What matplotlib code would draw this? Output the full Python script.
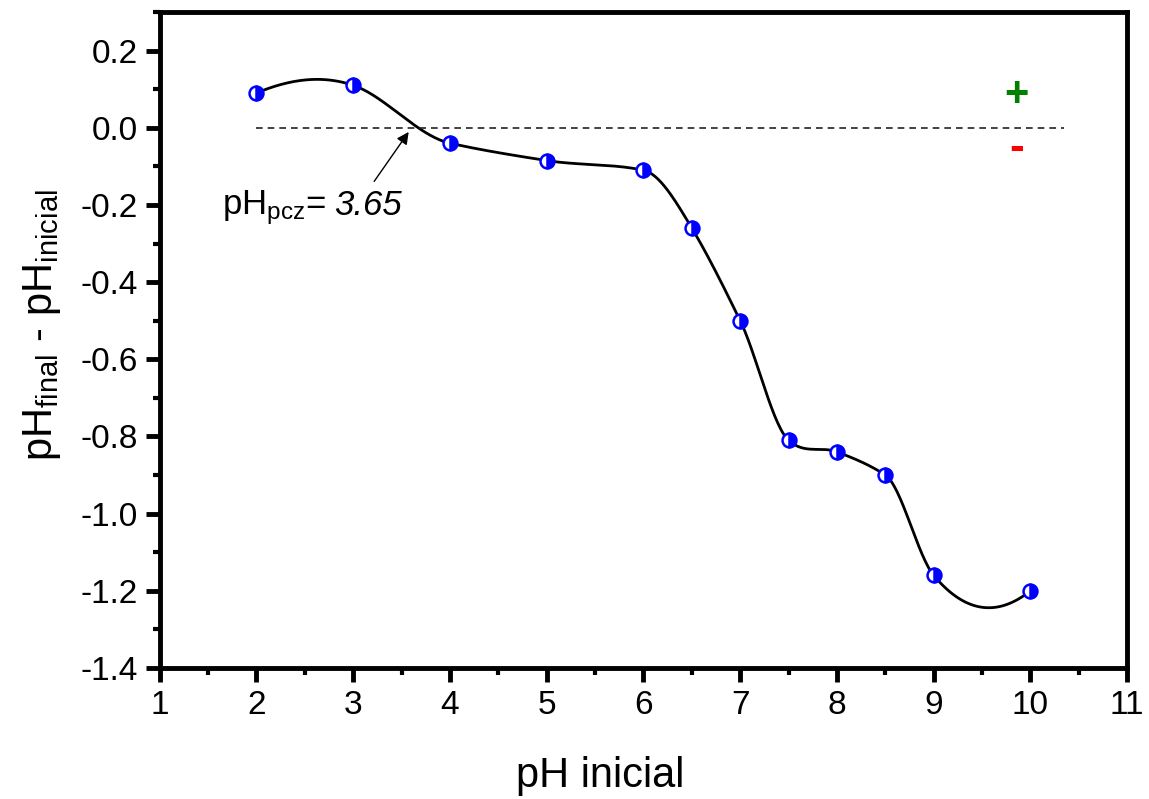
import numpy as np
import matplotlib
matplotlib.use('Agg')
import matplotlib.pyplot as plt
from matplotlib.ticker import MultipleLocator

plt.rcParams['font.family'] = ['Liberation Sans', 'DejaVu Sans']
plt.rcParams['mathtext.fontset'] = 'custom'
plt.rcParams['mathtext.rm'] = 'Liberation Sans'
plt.rcParams['mathtext.it'] = 'Liberation Sans:italic'

ph_inicial = [2, 3, 4, 5, 6, 6.5, 7, 7.5, 8, 8.5, 9, 10]
delta_ph = [0.09, 0.11, -0.04, -0.085, -0.11, -0.26, -0.50, -0.81, -0.84, -0.90, -1.16, -1.20]
ph_pcz = 3.65


def akima(x, y, xs):
    # interpolacion de Akima (suave, sin oscilaciones grandes)
    x = np.asarray(x, float)
    y = np.asarray(y, float)
    h = np.diff(x)
    m = np.diff(y) / h
    mm = np.concatenate([[3 * m[0] - 2 * m[1], 2 * m[0] - m[1]], m,
                         [2 * m[-1] - m[-2], 3 * m[-1] - 2 * m[-2]]])
    w1 = np.abs(mm[3:] - mm[2:-1])
    w2 = np.abs(mm[1:-2] - mm[:-3])
    t = np.where(w1 + w2 > 1e-12,
                 (w1 * mm[1:-2] + w2 * mm[2:-1]) / np.maximum(w1 + w2, 1e-12),
                 0.5 * (mm[1:-2] + mm[2:-1]))
    k = np.clip(np.searchsorted(x, xs) - 1, 0, len(x) - 2)
    hk = h[k]
    s = (xs - x[k]) / hk
    h00 = 2 * s**3 - 3 * s**2 + 1
    h10 = s**3 - 2 * s**2 + s
    h01 = -2 * s**3 + 3 * s**2
    h11 = s**3 - s**2
    return h00 * y[k] + h10 * hk * t[k] + h01 * y[k + 1] + h11 * hk * t[k + 1]


fig = plt.figure(figsize=(11.49, 7.99), dpi=100)
ax = fig.add_axes([0.139, 0.164, 0.842, 0.821])

xs = np.linspace(ph_inicial[0], ph_inicial[-1], 500)
ax.plot(xs, akima(ph_inicial, delta_ph, xs), color='black', lw=2, zorder=2)
ax.plot(ph_inicial, delta_ph, 'o', ms=10, color='blue', fillstyle='right',
        markerfacecoloralt='white', mec='blue', mew=1.8, zorder=3)

ax.plot([2, 10.35], [0, 0], color='#222222', lw=1.2, dashes=(4, 3))

ax.annotate('', xy=(ph_pcz - 0.06, -0.005), xytext=(3.2, -0.145),
            arrowprops=dict(arrowstyle='-|>', color='black', lw=1, mutation_scale=18))
t1 = ax.text(1.64, -0.225, r'pH$_{\mathrm{pcz}}$=', fontsize=25,
             ha='left', va='baseline')
ax.annotate('3.65', xy=(1, -0.225), xycoords=(t1, 'data'), xytext=(6, 0),
            textcoords='offset points', fontsize=25,
            style='italic', ha='left', va='baseline')

ax.text(9.86, 0.085, '+', color='green', fontsize=30, fontweight='bold', ha='center', va='center')
ax.text(9.86, -0.055, '-', color='red', fontsize=32, fontweight='bold', ha='center', va='center')

ax.set_xlim(1, 11)
ax.set_ylim(-1.4, 0.3)
ax.xaxis.set_major_locator(MultipleLocator(1))
ax.xaxis.set_minor_locator(MultipleLocator(0.5))
yt = np.round(np.arange(-1.4, 0.21, 0.2), 1)
ax.set_yticks(yt)
ax.set_yticklabels(['%.1f' % (v + 0.0) for v in yt])
ax.yaxis.set_minor_locator(MultipleLocator(0.1))
ax.tick_params(which='major', direction='out', length=10, width=3.5, labelsize=24, pad=6)
ax.tick_params(which='minor', direction='out', length=5, width=3)
for s in ax.spines.values():
    s.set_linewidth(3.5)

ax.set_xlabel('pH inicial', fontsize=30)
ax.xaxis.set_label_coords(0.455, -0.134)
ax.set_ylabel(r'pH$_{\mathrm{final}}$ - pH$_{\mathrm{inicial}}$', fontsize=30)
ax.yaxis.set_label_coords(-0.10, 0.523)

fig.savefig('out.png', dpi=100)
